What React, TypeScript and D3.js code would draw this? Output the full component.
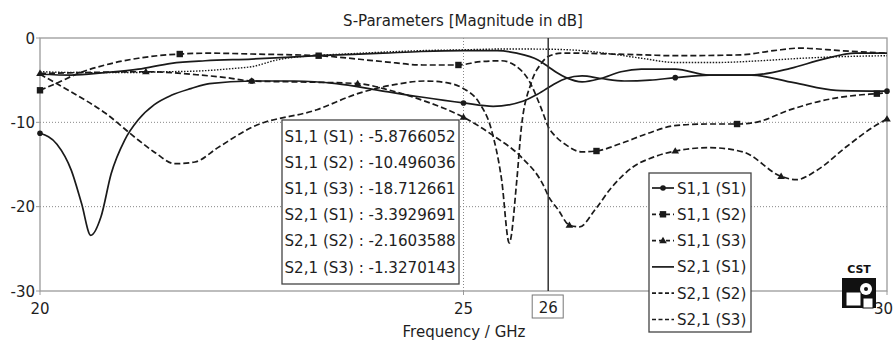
import React from 'react';
import * as d3 from 'd3';

// frequency (GHz) / magnitude (dB)
const s11s1F = [20, 20.2, 20.37, 20.49, 20.6, 20.72, 20.84, 21, 21.16, 21.35, 21.55, 21.78, 22, 22.5, 23, 23.5, 24, 24.5, 25, 25.35, 25.7, 25.85, 26, 26.1, 26.21, 26.4, 26.62, 26.9, 27.2, 27.5, 27.9, 28.4, 28.9, 29.4, 30];
const s11s1 = [-11.3, -12.6, -15.7, -19.6, -23.4, -21.2, -16.1, -12.1, -9.7, -7.9, -6.8, -6.0, -5.4, -5.1, -5.1, -5.4, -6.2, -7.0, -7.7, -8.1, -7.5, -6.8, -5.9, -5.3, -4.8, -4.5, -4.8, -5.1, -5.0, -4.7, -4.4, -4.4, -5.3, -6.2, -6.3];

const s11s2F = [20, 20.21, 20.45, 20.77, 21.16, 21.65, 22.02, 22.5, 23.29, 24.05, 24.52, 24.94, 25.2, 25.45, 25.6, 25.77, 25.92, 26, 26.1, 26.2, 26.39, 26.57, 26.86, 27.18, 27.49, 27.87, 28.23, 28.45, 28.86, 29.25, 29.63, 29.88, 30];
const s11s2 = [-6.2, -5.3, -4.2, -3.2, -2.4, -1.9, -1.8, -1.9, -2.1, -2.8, -3.2, -3.2, -2.8, -2.7, -3.2, -5.0, -8.4, -10.5, -11.8, -12.6, -13.5, -13.4, -12.5, -11.3, -10.4, -10.2, -10.2, -10.0, -8.5, -7.4, -6.8, -6.6, -6.5];

const s11s3F = [20, 20.5, 21.25, 21.9, 22.2, 22.5, 23, 23.75, 24.13, 24.52, 25, 25.37, 25.68, 25.95, 26, 26.12, 26.25, 26.37, 26.55, 26.75, 27, 27.25, 27.5, 27.9, 28.3, 28.75, 28.93, 29.17, 29.52, 29.83, 30];
const s11s3 = [-4.2, -4.1, -4.0, -4.4, -4.7, -5.1, -5.2, -5.4, -6.2, -7.4, -9.4, -11.7, -14.1, -17.6, -18.7, -20.4, -22.2, -22.4, -20.4, -17.7, -15.3, -14.1, -13.4, -13.0, -13.5, -16.4, -16.8, -15.7, -12.9, -10.6, -9.6];

const s21s1F = [20, 20.37, 20.77, 21.16, 21.55, 21.95, 22.5, 23.27, 24.05, 24.5, 25, 25.4, 25.63, 25.88, 26, 26.1, 26.21, 26.4, 26.62, 26.86, 27.1, 27.5, 27.9, 28.4, 28.86, 29.25, 29.63, 30];
const s21s1 = [-4.3, -4.4, -4.1, -3.7, -3.0, -2.7, -2.5, -2.1, -1.8, -1.6, -1.5, -1.5, -1.8, -2.6, -3.4, -4.1, -4.7, -5.2, -4.8, -4.0, -3.7, -3.7, -4.4, -4.4, -3.6, -2.5, -1.8, -1.8];

const s21s2F = [20, 20.37, 20.77, 21.16, 21.36, 21.59, 21.83, 22.1, 22.5, 23.27, 23.75, 24.2, 24.55, 24.8, 25, 25.18, 25.33, 25.45, 25.54, 25.63, 25.68, 25.8, 25.92, 26, 26.16, 26.35, 26.75, 27.13, 27.49, 28.27, 28.66, 28.97, 29.45, 30];
const s21s2 = [-4.3, -6.4, -8.9, -12.1, -13.6, -14.9, -14.7, -13.0, -10.6, -8.5, -6.6, -5.5, -5.1, -5.3, -6.0, -7.6, -10.9, -16.8, -24.3, -16.8, -10.9, -5.3, -3.0, -2.2, -1.8, -1.8, -1.9, -2.0, -2.1, -2.0, -1.5, -1.2, -1.5, -1.8];

const s21s3F = [20, 20.5, 21, 21.5, 21.9, 22.3, 22.5, 22.8, 23.2, 23.6, 24, 24.5, 25, 25.5, 26, 26.4, 26.75, 27.1, 27.5, 28, 28.5, 29, 29.5, 30];
const s21s3 = [-4.0, -4.1, -4.1, -4.0, -3.9, -3.6, -3.4, -2.6, -2.1, -1.9, -1.7, -1.5, -1.4, -1.3, -1.33, -1.5, -1.9, -2.4, -2.9, -2.9, -2.7, -2.4, -2.2, -2.1];

// marker symbols on the S1,1 curves
const circleF = [20, 22.5, 25, 27.5, 30];
const circleDb = [-11.3, -5.1, -7.7, -4.7, -6.3];
const squareF = [20, 21.65, 23.29, 24.94, 26.57, 28.23, 29.88];
const squareDb = [-6.2, -1.9, -2.1, -3.2, -13.4, -10.2, -6.6];
const triF = [20, 21.25, 22.5, 23.75, 25, 26.25, 27.5, 28.75, 30];
const triDb = [-4.2, -4.0, -5.1, -5.4, -9.4, -22.2, -13.4, -16.4, -9.6];

const xTicks = [20, 25, 30];
const yTicks = [0, -10, -20, -30];
const markerFreq = 26;
const seriesNames = ['S1,1 (S1)', 'S1,1 (S2)', 'S1,1 (S3)', 'S2,1 (S1)', 'S2,1 (S2)', 'S2,1 (S3)'];
const readout = ['-5.8766052', '-10.496036', '-18.712661', '-3.3929691', '-2.1603588', '-1.3270143'];

const W = 894;
const H = 343;
const INK = '#1a1a1a';
const TXT = '#1e1e1e';
const FONT = "'DejaVu Sans', Verdana, sans-serif";

const x = d3.scaleLinear().domain([20, 30]).range([40, 887]);
const y = d3.scaleLinear().domain([-30, 0]).range([291, 38]);

const line = d3
  .line<[number, number]>()
  .curve(d3.curveMonotoneX)
  .x((d) => x(d[0]))
  .y((d) => y(d[1]));

const zip = (f: number[], v: number[]) => f.map((d, i) => [d, v[i]] as [number, number]);

const series = [
  { pts: zip(s11s1F, s11s1), dash: null, w: 1.7, mark: 'circle' },
  { pts: zip(s11s2F, s11s2), dash: '6,3', w: 1.7, mark: 'square' },
  { pts: zip(s11s3F, s11s3), dash: '6,3', w: 1.7, mark: 'tri' },
  { pts: zip(s21s1F, s21s1), dash: null, w: 1.7, mark: null },
  { pts: zip(s21s2F, s21s2), dash: '6,3', w: 1.7, mark: null },
  { pts: zip(s21s3F, s21s3), dash: '1.5,1.5', w: 1.4, mark: null },
];

const Marker = ({ kind, cx, cy }) => {
  if (kind === 'circle') return <circle cx={cx} cy={cy} r={2.8} fill={INK} />;
  if (kind === 'square') return <rect x={cx - 3.2} y={cy - 3.2} width={6.4} height={6.4} fill={INK} />;
  if (kind === 'tri') return <path d={`M${cx},${cy - 3.8}L${cx + 3.8},${cy + 2.6}L${cx - 3.8},${cy + 2.6}Z`} fill={INK} />;
  return null;
};

export default function App() {
  const x0 = x(20);
  const x1 = x(30);
  const y0 = y(0);
  const y1 = y(-30);
  const xm = x(markerFreq);

  return (
    <svg width={W} height={H} style={{ position: 'absolute', left: 0, top: 0, background: '#fff' }} fontFamily={FONT}>
      <text x={463} y={26} fontSize={15} textAnchor="middle" fill={TXT}>
        S-Parameters [Magnitude in dB]
      </text>

      {/* grid */}
      {yTicks.filter((t) => t !== 0 && t !== -30).map((t) => (
        <line key={t} x1={x0} x2={x1} y1={y(t)} y2={y(t)} stroke="#888" strokeDasharray="1,2" />
      ))}
      <line x1={x(25)} x2={x(25)} y1={y0} y2={y1} stroke="#888" strokeDasharray="1,2" />

      {/* frame */}
      <rect x={x0} y={y0} width={x1 - x0} height={y1 - y0} fill="none" stroke="#9a9a9a" strokeWidth={1.3} />
      {yTicks.map((t) => (
        <g key={t}>
          <line x1={x0 - 4} x2={x0} y1={y(t)} y2={y(t)} stroke="#9a9a9a" />
          <text x={35} y={y(t) + 5.5} fontSize={15} textAnchor="end" fill={TXT}>
            {t}
          </text>
        </g>
      ))}
      {xTicks.map((t, i) => (
        <g key={t}>
          <line x1={x(t)} x2={x(t)} y1={y1} y2={y1 + 4} stroke="#9a9a9a" />
          <text
            x={i === xTicks.length - 1 ? W - 1 : x(t)}
            y={314}
            fontSize={15}
            textAnchor={i === xTicks.length - 1 ? 'end' : 'middle'}
            fill={TXT}
          >
            {t}
          </text>
        </g>
      ))}
      <text x={464} y={337} fontSize={15} textAnchor="middle" fill={TXT}>
        Frequency / GHz
      </text>

      {/* curves */}
      {series.map((s, i) => (
        <path key={i} d={line(s.pts) || ''} fill="none" stroke={INK} strokeWidth={s.w} strokeDasharray={s.dash || undefined} />
      ))}
      {circleF.map((f, i) => <Marker key={'c' + i} kind="circle" cx={x(f)} cy={y(circleDb[i])} />)}
      {squareF.map((f, i) => <Marker key={'s' + i} kind="square" cx={x(f)} cy={y(squareDb[i])} />)}
      {triF.map((f, i) => <Marker key={'t' + i} kind="tri" cx={x(f)} cy={y(triDb[i])} />)}

      {/* marker line at 26 GHz */}
      <line x1={xm} x2={xm} y1={y0} y2={y1} stroke="#333" strokeWidth={1.5} />
      <rect x={xm - 16} y={295} width={31} height={23} fill="#fff" stroke="#777" />
      <text x={xm} y={312.5} fontSize={15} textAnchor="middle" fill={TXT}>
        {markerFreq}
      </text>

      {/* readout box */}
      <rect x={282} y={120} width={177} height={164} fill="#fff" stroke="#444" strokeWidth={1.3} />
      {seriesNames.map((n, i) => (
        <text key={n} x={284.5} y={141.5 + i * 26.2} fontSize={15.1} fill={TXT}>
          {`${n} : ${readout[i]}`}
        </text>
      ))}

      {/* legend */}
      <rect x={649} y={173} width={102} height={159} fill="#fff" stroke="#444" strokeWidth={1.3} />
      {seriesNames.map((n, i) => {
        const cy = 188 + i * 26.3;
        const s = series[i];
        return (
          <g key={n}>
            <line x1={652} x2={674} y1={cy} y2={cy} stroke={INK} strokeWidth={s.w} strokeDasharray={s.dash ? (s.mark ? '4,3' : '4,2.5') : undefined} />
            <Marker kind={s.mark} cx={663} cy={cy} />
            <text x={677} y={cy + 5.5} fontSize={15.1} fill={TXT}>
              {n}
            </text>
          </g>
        );
      })}

      {/* CST logo */}
      <text x={859} y={273} fontSize={11} fontWeight="bold" textAnchor="middle" fill="#111">
        CST
      </text>
      <rect x={842} y={278} width={34} height={30} fill="#111" />
      <rect x={846} y={292} width={15} height={14} fill="#fff" stroke="#111" />
      <circle cx={866} cy={289} r={6} fill="#fff" />
      <circle cx={866} cy={289} r={2} fill="#111" />
      <rect x={863} y={298} width={10} height={10} fill="#fff" stroke="#111" />
    </svg>
  );
}
